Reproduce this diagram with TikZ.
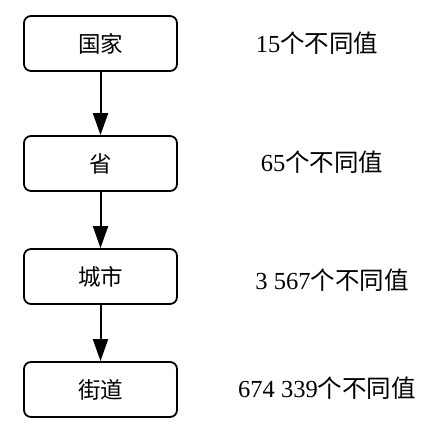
\documentclass[tikz,border=0pt]{standalone}
\usepackage{fontspec}
\setmainfont{Liberation Serif}
\newfontfamily\cjk{Noto Sans CJK SC}
\usetikzlibrary{arrows.meta}
\tikzset{
  levelbox/.style={draw=black, line width=1.8pt, rounded corners=7pt, minimum width=153pt, minimum height=55pt, inner sep=0pt, font=\cjk\fontsize{22.5}{22.5}\selectfont},
  countlabel/.style={inner sep=0pt, font=\fontsize{24.5}{24.5}\selectfont},
  flow/.style={line width=2pt, -{Triangle[length=22pt, width=15pt]}}
}
\begin{document}
\begin{tikzpicture}[x=1pt, y=-1pt]
\useasboundingbox (0,0) rectangle (441,430);
\node[levelbox] (a) at (100.5,43.5) {国家};
\node[levelbox] (b) at (100.5,163.5) {省};
\node[levelbox] (c) at (100.5,276.5) {城市};
\node[levelbox] (d) at (100.5,389.5) {街道};
\draw[flow] (a) -- (b);
\draw[flow] (b) -- (c);
\draw[flow] (c) -- (d);
\node[countlabel] (la) at (317,43) {15{\cjk 个不同值}};
\node[countlabel] (lb) at (322,162) {65{\cjk 个不同值}};
\node[countlabel] (lc) at (332,280) {3 567{\cjk 个不同值}};
\node[countlabel] (ld) at (327,388) {674 339{\cjk 个不同值}};
\end{tikzpicture}
\end{document}
